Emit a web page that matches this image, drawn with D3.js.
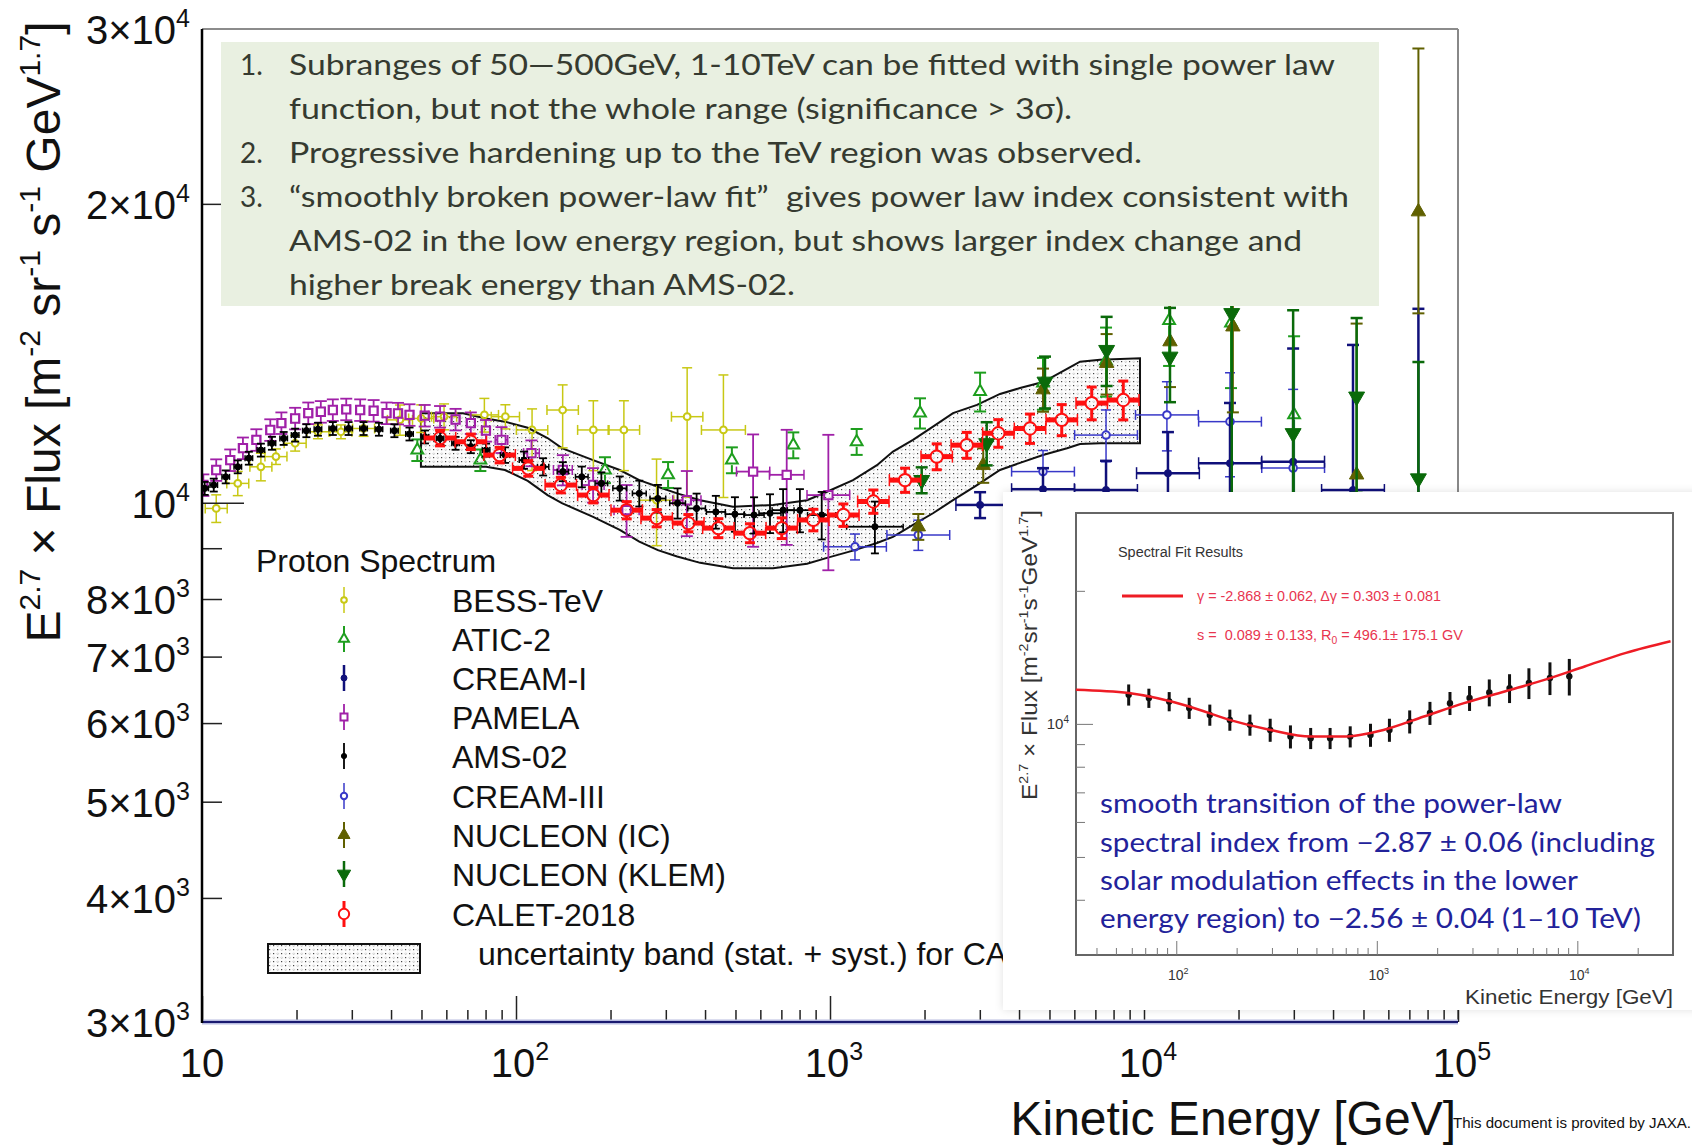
<!DOCTYPE html>
<html>
<head>
<meta charset="utf-8">
<title>Proton Spectrum</title>
<script src="https://cdn.jsdelivr.net/npm/d3@7"></script>
<style>
  body { margin: 0; background: #fff; }
  svg { display: block; font-family: "Liberation Sans", Arial, sans-serif; }
  text { white-space: pre; }
</style>
</head>
<body>
<svg id="chart" width="1692" height="1145"></svg>
<script>
// values (E in GeV, flux x E^2.7)
var bessE  = [11.1, 13.0, 15.4, 17.2, 19.8, 23.4, 27.7, 32.7, 42.7, 49.9, 59.0, 79.3, 92.5, 112.5, 140.8, 176.3, 220.6, 280.3, 350.8, 457.7];
var bessF  = [9870, 10460, 10870, 11130, 11480, 11790, 11790, 11880, 12120, 12160, 12210, 12260, 12210, 11840, 12400, 11840, 11840, 10060, 12210, 11840];
var bessUp = [0.032, 0.028, 0.032, 0.018, 0.018, 0.016, 0.016, 0.018, 0.035, 0.032, 0.03, 0.039, 0.028, 0.05, 0.06, 0.07, 0.07, 0.1, 0.12, 0.136];
var bessDn = [0.032, 0.028, 0.032, 0.018, 0.018, 0.016, 0.016, 0.018, 0.035, 0.032, 0.03, 0.039, 0.028, 0.09, 0.084, 0.09, 0.09, 0.1, 0.17, 0.145];
var bessXe = [0.035, 0.035, 0.035, 0.035, 0.035, 0.035, 0.035, 0.035, 0.04, 0.04, 0.04, 0.045, 0.045, 0.05, 0.05, 0.05, 0.05, 0.055, 0.05, 0.07];

var aticE  = [48.5, 77.0, 192, 305, 487, 764, 1216, 1935, 3006, 4768, 7570, 12020, 18930, 30060];
var aticF  = [11300, 11040, 10790, 10670, 11040, 11430, 11520, 12310, 12940, 13200, 13900, 15260, 15170, 12260];
var aticEr = [0.025, 0.025, 0.03, 0.03, 0.03, 0.03, 0.03, 0.035, 0.045, 0.06, 0.08, 0.1, 0.14, 0.2];

var cream1E  = [3006, 4768, 7570, 11920, 18790, 29850, 46300, 74800];
var cream1F  = [9950, 10320, 10300, 10710, 10960, 11000, 10300, 9800];
var cream1Up = [0.03, 0.05, 0.07, 0.1, 0.15, 0.3, 0.4, 0.6];
var cream1Dn = [0.03, 0.05, 0.07, 0.1, 0.15, 0.25, 0.3, 0.4];
var cream1Xe = [0.077, 0.1, 0.1, 0.1, 0.1, 0.1, 0.1, 0.1];

var pamE  = [10.1, 11.1, 12.3, 13.5, 14.9, 16.5, 17.9, 19.8, 21.8, 23.9, 26.1, 28.8, 31.9, 35.2, 38.7, 42.1, 45.8, 51.2, 57.3, 64.2, 71.8, 80.2, 89.9, 112, 141, 176, 225, 350, 569, 728, 988];
var pamF  = [10420, 10790, 11040, 11350, 11570, 11840, 12030, 12160, 12310, 12350, 12400, 12420, 12400, 12380, 12310, 12300, 12260, 12240, 12210, 12130, 12030, 11820, 11570, 11220, 10790, 10420, 9830, 10060, 10750, 10670, 10180];
var pamUp = [0.025, 0.025, 0.025, 0.025, 0.025, 0.025, 0.025, 0.025, 0.025, 0.025, 0.025, 0.025, 0.025, 0.025, 0.025, 0.025, 0.025, 0.025, 0.025, 0.025, 0.025, 0.025, 0.03, 0.03, 0.035, 0.04, 0.06, 0.07, 0.09, 0.11, 0.15];
var pamDn = [0.025, 0.025, 0.025, 0.025, 0.025, 0.025, 0.025, 0.025, 0.025, 0.025, 0.025, 0.025, 0.025, 0.025, 0.025, 0.025, 0.025, 0.025, 0.025, 0.025, 0.025, 0.025, 0.03, 0.03, 0.035, 0.04, 0.06, 0.08, 0.16, 0.15, 0.16];
var pamXe = [0.012, 0.012, 0.012, 0.012, 0.012, 0.012, 0.012, 0.012, 0.012, 0.012, 0.012, 0.012, 0.012, 0.012, 0.012, 0.012, 0.012, 0.012, 0.012, 0.012, 0.012, 0.012, 0.02, 0.025, 0.03, 0.035, 0.04, 0.045, 0.053, 0.055, 0.068];

var amsE  = [10.2, 10.9, 11.9, 13.0, 14.1, 15.4, 16.7, 18.2, 19.8, 21.5, 23.4, 26.1, 29.3, 32.7, 36.6, 41.0, 45.8, 51.3, 57.3, 64.2, 71.8, 80.3, 92.3, 106, 122, 141, 162, 187, 214, 247, 283, 327, 376, 433, 498, 573, 644, 709, 802, 941, 1390];
var amsF  = [10340, 10420, 10620, 10870, 11090, 11300, 11480, 11610, 11700, 11820, 11860, 11880, 11880, 11880, 11860, 11820, 11730, 11650, 11610, 11480, 11390, 11300, 11170, 11040, 10870, 10750, 10620, 10460, 10340, 10220, 10100, 9990, 9870, 9790, 9740, 9720, 9760, 9830, 9830, 9720, 9460];
var amsEr = [0.015, 0.015, 0.015, 0.015, 0.015, 0.015, 0.015, 0.015, 0.015, 0.015, 0.015, 0.015, 0.015, 0.015, 0.015, 0.015, 0.015, 0.015, 0.015, 0.015, 0.015, 0.015, 0.018, 0.02, 0.02, 0.022, 0.024, 0.026, 0.028, 0.03, 0.032, 0.035, 0.035, 0.038, 0.04, 0.042, 0.045, 0.05, 0.05, 0.055, 0.06];
var amsXe = [0.012, 0.012, 0.012, 0.012, 0.012, 0.012, 0.012, 0.012, 0.012, 0.012, 0.012, 0.012, 0.012, 0.012, 0.012, 0.012, 0.012, 0.012, 0.012, 0.012, 0.012, 0.012, 0.015, 0.015, 0.018, 0.018, 0.02, 0.02, 0.022, 0.022, 0.025, 0.025, 0.028, 0.03, 0.03, 0.032, 0.035, 0.035, 0.04, 0.045, 0.09];

var cream3E  = [1201, 1911, 4768, 7570, 11830, 18790, 29850];
var cream3F  = [9030, 9280, 10750, 11700, 12260, 12070, 10840];
var cream3Er = [0.03, 0.035, 0.05, 0.06, 0.08, 0.12, 0.2];
var cream3Xe = [0.1, 0.1, 0.1, 0.1, 0.1, 0.1, 0.1];

var icE  = [1911, 3076, 4768, 7603, 12100, 19190, 47550, 74800];
var icF  = [9460, 10910, 13000, 13820, 14530, 15040, 10670, 19640];
var icUp = [0.03, 0.04, 0.05, 0.07, 0.1, 0.2, 0.42, 0.46];
var icDn = [0.03, 0.04, 0.05, 0.07, 0.1, 0.18, 0.3, 0.21];

var klemE  = [1959, 3155, 4838, 7603, 12100, 19030, 29850, 47550, 74800];
var klemF  = [10540, 11480, 13240, 14250, 14030, 15520, 11750, 12790, 10580];
var klemUp = [0.03, 0.05, 0.06, 0.08, 0.12, 0.3, 0.33, 0.2, 0.31];
var klemDn = [0.03, 0.05, 0.06, 0.08, 0.1, 0.35, 0.3, 0.2, 0.3];

var calE  = [57.3, 71.8, 88.7, 109.4, 138.9, 176.3, 225.2, 280.5, 353.9, 441, 556, 702, 885, 1103, 1374, 1734, 2187, 2726, 3436, 4335, 5470, 6815, 8590];
var calF  = [11620, 11520, 11170, 10830, 10420, 10180, 9830, 9650, 9540, 9430, 9320, 9430, 9610, 9720, 10030, 10540, 11130, 11430, 11750, 11880, 12120, 12600, 12690];
var calEr = [0.018, 0.018, 0.018, 0.018, 0.018, 0.018, 0.02, 0.02, 0.02, 0.022, 0.022, 0.024, 0.025, 0.026, 0.027, 0.028, 0.03, 0.03, 0.032, 0.034, 0.036, 0.038, 0.045];
var calXe = [0.05, 0.05, 0.05, 0.05, 0.05, 0.05, 0.05, 0.05, 0.05, 0.05, 0.05, 0.05, 0.05, 0.05, 0.05, 0.05, 0.05, 0.05, 0.05, 0.05, 0.05, 0.05, 0.05];

// CALET uncertainty band
var bandE  = [49.8, 67.8, 80.3, 92.2, 109, 126, 140, 176, 214, 247, 283, 326, 386, 491, 659, 845, 978, 1184, 1411, 1587, 1838, 2128, 2465, 2939, 3479, 4029, 4768, 5686, 6255, 7244, 9712];
var bandHi = [12310, 12310, 12160, 12070, 11900, 11620, 11350, 11040, 10790, 10540, 10380, 10220, 10060, 9910, 9950, 10060, 10260, 10540, 10910, 11260, 11570, 11930, 12310, 12550, 12870, 13050, 13230, 13640, 13870, 13930, 13980];
var bandLo = [10870, 10870, 10870, 10790, 10520, 10180, 9990, 9680, 9390, 9140, 8960, 8830, 8700, 8590, 8590, 8680, 8800, 8950, 9110, 9240, 9500, 9760, 10060, 10420, 10790, 10970, 11170, 11350, 11460, 11480, 11480];

// inset: spectral fit
var insE  = [57.9, 73.0, 92.2, 116, 147, 185, 233, 294, 371, 468, 585, 737, 930, 1156, 1459, 1841, 2317, 2901, 3639, 4592, 5735, 7303, 9120];
var insF  = [11640, 11440, 11240, 10860, 10480, 10210, 9950, 9690, 9360, 9280, 9280, 9360, 9440, 9690, 10120, 10580, 11140, 11440, 11780, 12050, 12370, 12700, 12810];
var insEr = [0.055, 0.05, 0.05, 0.055, 0.055, 0.055, 0.055, 0.06, 0.06, 0.055, 0.055, 0.055, 0.06, 0.06, 0.06, 0.06, 0.06, 0.065, 0.07, 0.075, 0.08, 0.085, 0.095];
var fitE  = [31.6, 57.9, 116, 184, 295, 468, 676, 1079, 1718, 2723, 4340, 6918, 10960, 17480, 29170];
var fitF  = [11950, 11740, 10950, 10210, 9690, 9360, 9360, 9690, 10390, 11140, 11840, 12590, 13500, 14480, 15380];

// ticks and labels
var xMajor = [10, 100, 1000, 10000, 100000];
var xExp   = ["", "2", "3", "4", "5"];
var xMinor = [20, 30, 40, 50, 60, 70, 80, 90, 200, 300, 400, 500, 600, 700, 800, 900,
              2000, 3000, 4000, 5000, 6000, 7000, 8000, 9000, 20000, 30000, 40000, 50000, 60000, 70000, 80000, 90000];
var yTicks = [30000, 20000, 10000, 8000, 7000, 6000, 5000, 4000, 3000];
var yMant  = ["3×10", "2×10", "10", "8×10", "7×10", "6×10", "5×10", "4×10", "3×10"];
var yExp   = ["4", "4", "4", "3", "3", "3", "3", "3", "3"];
var yMinor = [4000, 5000, 6000, 7000, 8000, 9000, 20000];
var ixMajor = [100, 1000, 10000];
var ixExp   = ["2", "3", "4"];
var ixMinor = [40, 50, 60, 70, 80, 90, 200, 300, 400, 500, 600, 700, 800, 900,
               2000, 3000, 4000, 5000, 6000, 7000, 8000, 9000, 20000];
var iyMinor = [4000, 5000, 6000, 7000, 8000, 9000, 20000];

var legNames = ["BESS-TeV", "ATIC-2", "CREAM-I", "PAMELA", "AMS-02", "CREAM-III", "NUCLEON (IC)", "NUCLEON (KLEM)", "CALET-2018"];
var noteLines = [
  "Subranges of 50\u2014500GeV, 1-10TeV can be fitted with single power law",
  "function, but not the whole range (significance > 3\u03c3).",
  "Progressive hardening up to the TeV region was observed.",
  "\u201csmoothly broken power-law fit\u201d\u00a0 gives power law index consistent with",
  "AMS-02 in the low energy region, but shows larger index change and",
  "higher break energy than AMS-02."
];
var insetLines = [
  "smooth transition of the power-law",
  "spectral index from \u22122.87 \u00b1 0.06 (including",
  "solar modulation effects in the lower",
  "energy region) to \u22122.56 \u00b1 0.04 (1\u201310 TeV)"
];

var svg = d3.select("#chart");
var x = d3.scaleLog().domain([10, 100000]).range([202, 1458]);
var y = d3.scaleLog().domain([3000, 30000]).range([1022, 29]);

var defs = svg.append("defs");
var pat = defs.append("pattern").attr("id", "dots").attr("patternUnits", "userSpaceOnUse")
  .attr("width", 8).attr("height", 8);
pat.append("rect").attr("width", 8).attr("height", 8).attr("fill", "#fcfcfc");
pat.append("rect").attr("x", 1).attr("y", 1).attr("width", 1.2).attr("height", 1.2).attr("fill", "#444");
pat.append("rect").attr("x", 5).attr("y", 5).attr("width", 1.2).attr("height", 1.2).attr("fill", "#444");
pat.append("path").attr("d", "M5.7,0.8l1,1l-1,1l-1,-1z M1.7,4.8l1,1l-1,1l-1,-1z")
  .attr("fill", "none").attr("stroke", "#b0b0b0").attr("stroke-width", 0.6);
defs.append("clipPath").attr("id", "plotClip").append("rect")
  .attr("x", 202).attr("y", 29).attr("width", 1256).attr("height", 993);
var sh = defs.append("filter").attr("id", "shadow")
  .attr("x", "-5%").attr("y", "-5%").attr("width", "110%").attr("height", "110%");
sh.append("feDropShadow").attr("dx", 0).attr("dy", 0).attr("stdDeviation", 4)
  .attr("flood-color", "#000").attr("flood-opacity", 0.12);

// superscript helper
function addParts(t, parts, supSize, rise) {
  var shift = 0;
  parts.forEach(function(p) {
    var ts = t.append("tspan").text(p[0]);
    var want = p[1] ? -rise : 0;
    if (want !== shift) { ts.attr("dy", want - shift); shift = want; }
    if (p[1]) ts.attr("font-size", supSize);
  });
}

var plot = svg.append("g").attr("clip-path", "url(#plotClip)");

// uncertainty band
var bandPts = bandE.map(function(e, i) { return {e: e, hi: bandHi[i], lo: bandLo[i]}; });
plot.append("path").datum(bandPts)
  .attr("d", d3.area().x(function(d) { return x(d.e); })
    .y0(function(d) { return y(d.lo); }).y1(function(d) { return y(d.hi); }))
  .attr("fill", "url(#dots)").attr("stroke", "#111").attr("stroke-width", 2);

var series = [
  {E: bessE, F: bessF, up: bessUp, dn: bessDn, xe: bessXe, color: "#c8c814", sw: 1.5, cap: 5, hsw: 1.5, hcap: 5, sym: d3.symbolCircle, size: 36, open: true, gap: 3.5},
  {E: aticE, F: aticF, up: aticEr, color: "#1e9e1e", sw: 2, cap: 6, sym: d3.symbolTriangle, size: 60, open: true, gap: 5},
  {E: cream3E, F: cream3F, up: cream3Er, xe: cream3Xe, color: "#3838c8", sw: 1.5, cap: 5, hsw: 1.5, hcap: 5, sym: d3.symbolCircle, size: 45, open: true, gap: 4},
  {E: cream1E, F: cream1F, up: cream1Up, dn: cream1Dn, xe: cream1Xe, color: "#10107a", sw: 2.5, cap: 6, hsw: 2.5, hcap: 6, sym: d3.symbolCircle, size: 40, open: false, gap: 0},
  {E: pamE, F: pamF, up: pamUp, dn: pamDn, xe: pamXe, color: "#a020a8", sw: 1.8, cap: 6, hsw: 1.8, hcap: 5, sym: d3.symbolSquare, size: 70, open: true, gap: 4.5},
  {E: amsE, F: amsF, up: amsEr, xe: amsXe, color: "#000", sw: 1.8, cap: 4, hsw: 1.8, hcap: 3, sym: d3.symbolCircle, size: 30, open: false, gap: 0},
  {E: icE, F: icF, up: icUp, dn: icDn, color: "#606000", sw: 2, cap: 6, sym: d3.symbolTriangle, size: 90, open: false, gap: 0},
  {E: klemE, F: klemF, up: klemUp, dn: klemDn, color: "#0a6a0a", sw: 2.5, cap: 6, sym: d3.symbolTriangle, size: 110, open: false, gap: 0, flip: true},
  {E: calE, F: calF, up: calEr, xe: calXe, color: "#ff1010", sw: 3, cap: 5, hsw: 5, hcap: 6, sym: d3.symbolCircle, size: 120, open: true, gap: 6}
];

function drawSeries(s) {
  var g = plot.append("g");
  var segs = [];
  var pts = s.E.map(function(e, i) {
    return {e: e, f: s.F[i], up: s.up[i], dn: (s.dn || s.up)[i], xe: s.xe ? s.xe[i] : 0};
  });
  pts.forEach(function(d) {
    var cx = x(d.e), cy = y(d.f), yu = y(d.f * (1 + d.up)), yd = y(d.f * (1 - d.dn)), gap = s.gap;
    if (cy - gap > yu) segs.push([cx, yu, cx, cy - gap, s.sw]);
    if (yd > cy + gap) segs.push([cx, cy + gap, cx, yd, s.sw]);
    segs.push([cx - s.cap, yu, cx + s.cap, yu, s.sw]);
    segs.push([cx - s.cap, yd, cx + s.cap, yd, s.sw]);
    if (d.xe) {
      var xl = x(d.e / Math.pow(10, d.xe)), xr = x(d.e * Math.pow(10, d.xe));
      if (cx - gap > xl) segs.push([xl, cy, cx - gap, cy, s.hsw]);
      if (xr > cx + gap) segs.push([cx + gap, cy, xr, cy, s.hsw]);
      segs.push([xl, cy - s.hcap, xl, cy + s.hcap, 1.5]);
      segs.push([xr, cy - s.hcap, xr, cy + s.hcap, 1.5]);
    }
  });
  g.selectAll("line").data(segs).join("line")
    .attr("x1", function(d) { return d[0]; }).attr("y1", function(d) { return d[1]; })
    .attr("x2", function(d) { return d[2]; }).attr("y2", function(d) { return d[3]; })
    .attr("stroke", s.color).attr("stroke-width", function(d) { return d[4]; });
  g.selectAll("path").data(pts).join("path")
    .attr("d", d3.symbol().type(s.sym).size(s.size))
    .attr("transform", function(d) { return "translate(" + x(d.e) + "," + y(d.f) + ")" + (s.flip ? " rotate(180)" : ""); })
    .attr("fill", s.open ? "none" : s.color).attr("stroke", s.color).attr("stroke-width", s.open ? 2 : 1);
}
series.forEach(drawSeries);

// frame and axes
svg.append("line").attr("x1", 202).attr("x2", 1458).attr("y1", 29).attr("y2", 29).attr("stroke", "#666").attr("stroke-width", 1.5);
svg.append("line").attr("x1", 1458).attr("x2", 1458).attr("y1", 29).attr("y2", 1022).attr("stroke", "#888").attr("stroke-width", 2);

var gx = svg.append("g").attr("transform", "translate(0,1022)").attr("color", "#222");
gx.append("g").call(d3.axisBottom(x).tickValues(xMinor).tickSize(-12).tickFormat(""));
gx.append("g").call(d3.axisBottom(x).tickValues(xMajor).tickSize(-26).tickFormat(""));
gx.selectAll(".domain").remove();
gx.selectAll(".tick line").attr("stroke-width", 1.5);
svg.append("line").attr("x1", 202).attr("x2", 1458).attr("y1", 1022).attr("y2", 1022).attr("stroke", "#b8bce0").attr("stroke-width", 5);
svg.append("line").attr("x1", 202).attr("x2", 1458).attr("y1", 1022).attr("y2", 1022).attr("stroke", "#1a1a70").attr("stroke-width", 2);

var gy = svg.append("g").attr("transform", "translate(202,0)").attr("color", "#222");
gy.append("g").call(d3.axisLeft(y).tickValues(yMinor).tickSize(-20).tickFormat(""));
gy.append("g").call(d3.axisLeft(y).tickValues([10000]).tickSize(-42).tickFormat(""));
gy.selectAll(".domain").remove();
gy.selectAll(".tick line").attr("stroke-width", 1.5);
svg.append("line").attr("x1", 202).attr("x2", 202).attr("y1", 29).attr("y2", 1023).attr("stroke", "#000").attr("stroke-width", 2.5);

yTicks.forEach(function(v, i) {
  var t = svg.append("text").attr("x", 190).attr("y", y(v) + 15).attr("text-anchor", "end")
    .attr("font-size", 40).attr("fill", "#111");
  addParts(t, [[yMant[i], 0], [yExp[i], 1]], 25, 17);
});
xMajor.forEach(function(v, i) {
  var t = svg.append("text").attr("x", x(v) + (i ? 4 : 0)).attr("y", 1077).attr("text-anchor", "middle")
    .attr("font-size", 40).attr("fill", "#111");
  addParts(t, [["10", 0], [xExp[i], 1]], 25, 17);
});

svg.append("text").attr("x", 1456).attr("y", 1135).attr("text-anchor", "end")
  .attr("font-size", 48).attr("fill", "#111").text("Kinetic Energy [GeV]");
var yt = svg.append("text").attr("transform", "translate(60,332) rotate(-90)")
  .attr("text-anchor", "middle").attr("font-size", 48).attr("fill", "#111");
addParts(yt, [["E", 0], ["2.7", 1], [" × Flux [m", 0], ["-2", 1], [" sr", 0], ["-1", 1],
  [" s", 0], ["-1", 1], [" GeV", 0], ["1.7", 1], ["]", 0]], 30, 20);

// note box
svg.append("rect").attr("x", 221).attr("y", 42).attr("width", 1158).attr("height", 264).attr("fill", "#e9f0e1");
var noteY = [75, 119, 163, 207, 251, 295];
var noteW = [1046, 783, 853, 1060, 1013, 506];
var noteNum = ["1.", "", "2.", "3.", "", ""];
noteLines.forEach(function(s, i) {
  svg.append("text").attr("x", 289).attr("y", noteY[i]).attr("font-family", "Lato, 'Open Sans', sans-serif")
    .attr("font-size", 28).attr("fill", "#353a30").attr("textLength", noteW[i])
    .attr("lengthAdjust", "spacingAndGlyphs").text(s);
  if (noteNum[i]) {
    svg.append("text").attr("x", 240).attr("y", noteY[i]).attr("font-family", "Lato, 'Open Sans', sans-serif")
      .attr("font-size", 28).attr("fill", "#353a30").text(noteNum[i]);
  }
});

// legend
svg.append("text").attr("x", 256).attr("y", 572).attr("font-size", 32).attr("fill", "#111").text("Proton Spectrum");
var legY = [612, 651, 690, 729, 768, 808, 847, 886, 926];
var legOrder = [0, 1, 3, 4, 5, 2, 6, 7, 8];
legNames.forEach(function(name, i) {
  var s = series[legOrder[i]], cy = legY[i] - 12;
  svg.append("line").attr("x1", 344).attr("x2", 344).attr("y1", cy - 13).attr("y2", cy + 13)
    .attr("stroke", s.color).attr("stroke-width", Math.min(s.sw, 3));
  svg.append("path").attr("d", d3.symbol().type(s.sym).size(s.size * 0.7))
    .attr("transform", "translate(344," + cy + ")" + (s.flip ? " rotate(180)" : ""))
    .attr("fill", s.open ? "#fff" : s.color).attr("stroke", s.color).attr("stroke-width", s.open ? 2 : 1);
  svg.append("text").attr("x", 452).attr("y", legY[i]).attr("font-size", 32).attr("fill", "#111").text(name);
});
svg.append("rect").attr("x", 268).attr("y", 944).attr("width", 152).attr("height", 29)
  .attr("fill", "url(#dots)").attr("stroke", "#111").attr("stroke-width", 2);
svg.append("text").attr("x", 478).attr("y", 965).attr("font-size", 32).attr("fill", "#111")
  .text("uncertainty band (stat. + syst.) for CALET");

// inset
var ix = d3.scaleLog().domain([31.62, 30000]).range([1076, 1673]);
var iy = d3.scaleLog().domain([3000, 30000]).range([955, 513]);
var ins = svg.append("g");
ins.append("rect").attr("x", 1003).attr("y", 492).attr("width", 700).attr("height", 518)
  .attr("fill", "#fff").attr("filter", "url(#shadow)");
ins.append("rect").attr("x", 1076).attr("y", 513).attr("width", 597).attr("height", 442)
  .attr("fill", "none").attr("stroke", "#666").attr("stroke-width", 2);

var igx = ins.append("g").attr("transform", "translate(0,955)").attr("color", "#777");
igx.append("g").call(d3.axisBottom(ix).tickValues(ixMinor).tickSize(-7).tickFormat(""));
igx.append("g").call(d3.axisBottom(ix).tickValues(ixMajor).tickSize(-14).tickFormat(""));
var igy = ins.append("g").attr("transform", "translate(1076,0)").attr("color", "#777");
igy.append("g").call(d3.axisLeft(iy).tickValues(iyMinor).tickSize(-9).tickFormat(""));
igy.append("g").call(d3.axisLeft(iy).tickValues([10000]).tickSize(-17).tickFormat(""));
ins.selectAll(".domain").remove();

ixMajor.forEach(function(v, i) {
  var t = ins.append("text").attr("x", ix(v) + 2).attr("y", 980).attr("text-anchor", "middle")
    .attr("font-size", 14).attr("fill", "#333");
  addParts(t, [["10", 0], [ixExp[i], 1]], 9, 6);
});
var i4 = ins.append("text").attr("x", 1069).attr("y", iy(10000) + 5).attr("text-anchor", "end").attr("font-size", 15).attr("fill", "#333");
addParts(i4, [["10", 0], ["4", 1]], 10, 6);
ins.append("text").attr("x", 1673).attr("y", 1004).attr("text-anchor", "end").attr("font-size", 20)
  .attr("fill", "#333").attr("textLength", 208).attr("lengthAdjust", "spacingAndGlyphs").text("Kinetic Energy [GeV]");
var iyt = ins.append("text").attr("transform", "translate(1037,655) rotate(-90)").attr("text-anchor", "middle")
  .attr("font-size", 22).attr("fill", "#333").attr("textLength", 290).attr("lengthAdjust", "spacingAndGlyphs");
addParts(iyt, [["E", 0], ["2.7", 1], [" × Flux [m", 0], ["-2", 1], ["sr", 0], ["-1", 1],
  ["s", 0], ["-1", 1], ["GeV", 0], ["1.7", 1], ["]", 0]], 13, 9);

ins.append("text").attr("x", 1118).attr("y", 557).attr("font-size", 14).attr("fill", "#333")
  .attr("textLength", 125).attr("lengthAdjust", "spacingAndGlyphs").text("Spectral Fit Results");
ins.append("line").attr("x1", 1122).attr("x2", 1183).attr("y1", 596).attr("y2", 596)
  .attr("stroke", "#ee1c25").attr("stroke-width", 3);
ins.append("text").attr("x", 1197).attr("y", 601).attr("font-size", 14).attr("fill", "#e8354f")
  .attr("textLength", 244).attr("lengthAdjust", "spacingAndGlyphs").text("\u03b3 = -2.868 \u00b1 0.062, \u0394\u03b3 = 0.303 \u00b1 0.081");
var r2 = ins.append("text").attr("x", 1197).attr("y", 640).attr("font-size", 14).attr("fill", "#e8354f")
  .attr("textLength", 266).attr("lengthAdjust", "spacingAndGlyphs");
r2.append("tspan").text("s =  0.089 \u00b1 0.133, R");
r2.append("tspan").attr("dy", 4).attr("font-size", 10).text("0");
r2.append("tspan").attr("dy", -4).text(" = 496.1\u00b1 175.1 GV");

var insPts = insE.map(function(e, i) { return {e: e, f: insF[i], er: insEr[i]}; });
var ig = ins.append("g");
ig.selectAll("line.v").data(insPts).join("line").attr("class", "v")
  .attr("x1", function(d) { return ix(d.e); }).attr("x2", function(d) { return ix(d.e); })
  .attr("y1", function(d) { return iy(d.f * (1 + d.er)); }).attr("y2", function(d) { return iy(d.f * (1 - d.er)); })
  .attr("stroke", "#111").attr("stroke-width", 3);
ig.selectAll("circle").data(insPts).join("circle")
  .attr("cx", function(d) { return ix(d.e); }).attr("cy", function(d) { return iy(d.f); })
  .attr("r", 3.2).attr("fill", "#111");
var fitPts = fitE.map(function(e, i) { return {e: e, f: fitF[i]}; });
ins.append("path").datum(fitPts)
  .attr("d", d3.line().x(function(d) { return ix(d.e); }).y(function(d) { return iy(d.f); }).curve(d3.curveMonotoneX))
  .attr("fill", "none").attr("stroke", "#ee1c25").attr("stroke-width", 2.5);

var insY = [813, 852, 890, 928];
var insW = [462, 555, 478, 541];
insetLines.forEach(function(s, i) {
  ins.append("text").attr("x", 1100).attr("y", insY[i]).attr("font-family", "Lato, 'Open Sans', sans-serif")
    .attr("font-size", 26).attr("fill", "#22229a").attr("textLength", insW[i])
    .attr("lengthAdjust", "spacingAndGlyphs").text(s);
});

svg.append("text").attr("x", 1453).attr("y", 1128).attr("font-size", 15).attr("fill", "#111")
  .attr("textLength", 238).attr("lengthAdjust", "spacingAndGlyphs").text("This document is provited by JAXA.");
</script>
</body>
</html>
